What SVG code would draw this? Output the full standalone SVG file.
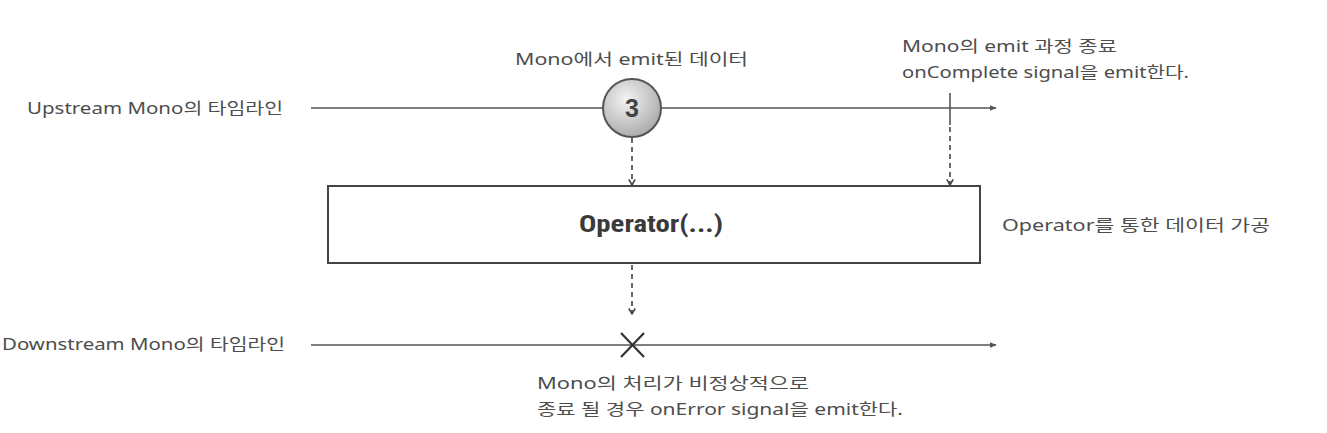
<svg xmlns="http://www.w3.org/2000/svg" width="1327" height="433" viewBox="0 0 1327 433">
<style>
.t{font-family:"Noto Sans","Noto Sans CJK KR",sans-serif;font-size:16px;fill:#4d4d4d}
.line{stroke:#555;stroke-width:1.6;fill:none}
.dash{stroke:#444;stroke-width:1.6;fill:none;stroke-dasharray:5 4}
</style>
<defs>
<marker id="ah" viewBox="0 0 10 10" refX="9" refY="5" markerWidth="7" markerHeight="7" markerUnits="userSpaceOnUse" orient="auto">
<path d="M0,1 L10,5 L0,9 Z" fill="#555"/>
</marker>
<marker id="dh" viewBox="0 0 10 10" refX="9" refY="5" markerWidth="8" markerHeight="8" markerUnits="userSpaceOnUse" orient="auto">
<path d="M2,1 L9,5 L2,9" fill="none" stroke="#444" stroke-width="2"/>
</marker>
<radialGradient id="g" cx="0.4" cy="0.35" r="0.7">
<stop offset="0" stop-color="#f4f4f4"/>
<stop offset="1" stop-color="#a8a8a8"/>
</radialGradient>
</defs>
<rect width="1327" height="433" fill="#fff"/>
<g id="connectors">
<line class="line" x1="311" y1="108" x2="996" y2="108" marker-end="url(#ah)"/>
<line class="line" x1="311" y1="345" x2="996" y2="345" marker-end="url(#ah)"/>
<line class="dash" x1="632" y1="138" x2="632" y2="185" marker-end="url(#dh)"/>
<line class="dash" x1="950" y1="127" x2="950" y2="185" marker-end="url(#dh)"/>
<line class="dash" x1="632" y1="265" x2="632" y2="314" marker-end="url(#dh)"/>
</g>
<g id="upstream-label"><text class="t" x="27" y="114" textLength="256" lengthAdjust="spacingAndGlyphs">Upstream Mono의 타임라인</text></g>
<g id="downstream-label"><text class="t" x="2" y="350" textLength="283" lengthAdjust="spacingAndGlyphs">Downstream Mono의 타임라인</text></g>
<g id="emit-label"><text class="t" x="515" y="65" textLength="233" lengthAdjust="spacingAndGlyphs">Mono에서 emit된 데이터</text></g>
<g id="complete-label">
<text class="t" x="902" y="52" textLength="215" lengthAdjust="spacingAndGlyphs">Mono의 emit 과정 종료</text>
<text class="t" x="902" y="78" textLength="287" lengthAdjust="spacingAndGlyphs">onComplete signal을 emit한다.</text>
</g>
<g id="item-3">
<circle cx="632" cy="108" r="29" fill="url(#g)" stroke="#555" stroke-width="2"/>
<text x="632" y="117" text-anchor="middle" font-family="'Liberation Sans',Arial,sans-serif" font-weight="bold" font-size="25" fill="#444">3</text>
</g>
<g id="complete-tick"><line class="line" x1="950" y1="93" x2="950" y2="125" stroke-width="2"/></g>
<g id="operator">
<rect x="328" y="186" width="652" height="77" fill="#fff" stroke="#444" stroke-width="2"/>
<text x="651" y="232" text-anchor="middle" font-family="'Roboto Condensed','DejaVu Sans Condensed','Noto Sans',sans-serif" font-stretch="condensed" font-weight="bold" font-size="23" fill="#3a3a3a" textLength="144" lengthAdjust="spacingAndGlyphs">Operator(...)</text>
</g>
<g id="operator-label"><text class="t" x="1002" y="231" textLength="268" lengthAdjust="spacingAndGlyphs">Operator를 통한 데이터 가공</text></g>
<g id="error-x">
<path d="M621,333 L644,357 M644,333 L621,357" stroke="#333" stroke-width="2.2" fill="none"/>
</g>
<g id="error-label">
<text class="t" x="537" y="389" textLength="272" lengthAdjust="spacingAndGlyphs">Mono의 처리가 비정상적으로</text>
<text class="t" x="537" y="415" textLength="366" lengthAdjust="spacingAndGlyphs">종료 될 경우 onError signal을 emit한다.</text>
</g>
</svg>
